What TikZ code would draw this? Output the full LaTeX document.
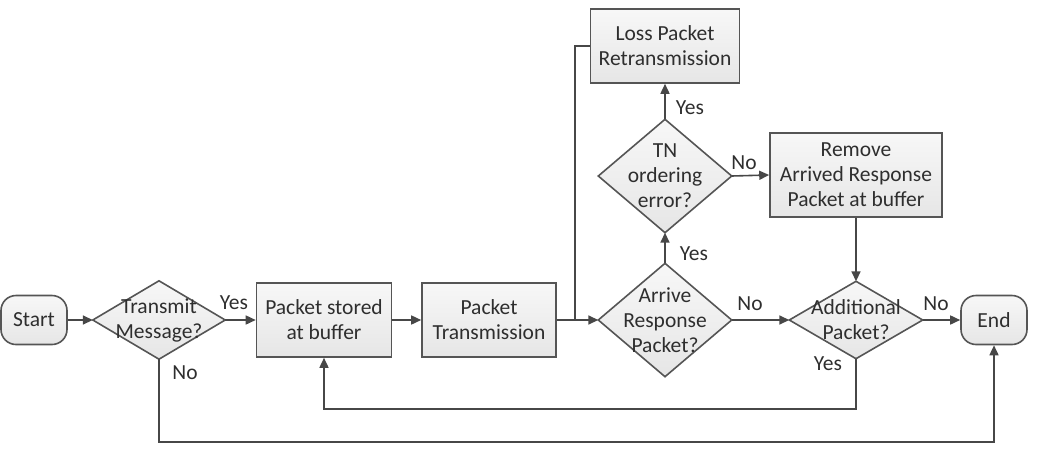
\documentclass[tikz,border=0pt]{standalone}
\usepackage{fontspec}
\setmainfont{Carlito}
\usetikzlibrary{arrows.meta,backgrounds}
\definecolor{edgecol}{HTML}{555555}
\definecolor{linecol}{HTML}{474747}
\definecolor{txtcol}{HTML}{2E2E2E}
\definecolor{fillcol}{HTML}{E6E6E6}
\begin{document}
\begin{tikzpicture}[x=1pt,y=-1pt,
  font=\fontsize{21.5}{25}\selectfont, text=txtcol,
  base/.style={align=center, inner sep=0pt},
  box/.style={base, draw=edgecol, line width=1.6pt, top color=white!97!black, bottom color=fillcol},
  term/.style={box, rounded corners=15pt},
  dnode/.style={base},
  dshape/.style={draw=edgecol, line width=1.6pt, top color=white!97!black, bottom color=fillcol},
  conn/.style={draw=linecol, line width=1.6pt},
  arr/.style={conn, -{Triangle[length=10pt,width=9pt]}},
  lbl/.style={inner sep=0pt}
]
\useasboundingbox (0,0) rectangle (1043,450);
% nodes
\node[term, minimum width=66, minimum height=49] (start) at (34,320) {Start};
\node[dnode, minimum width=132, minimum height=78] (tm) at (159,320) {Transmit\\Message?};
\node[box, minimum width=135, minimum height=74] (ps) at (324,320) {Packet stored\\at buffer};
\node[box, minimum width=134, minimum height=74] (pt) at (489,320) {Packet\\Transmission};
\node[dnode, minimum width=133, minimum height=113] (ar) at (665,320) {Arrive\\Response\\Packet?};
\node[dnode, minimum width=133, minimum height=113] (tn) at (665,176) {TN\\ordering\\error?};
\node[box, minimum width=149, minimum height=74] (loss) at (665,46) {Loss Packet\\Retransmission};
\node[box, minimum width=172, minimum height=84] (rm) at (856,175) {Remove\\Arrived Response\\Packet at buffer};
\node[dnode, minimum width=133, minimum height=77] (ad) at (856,320) {Additional\\Packet?};
\node[term, minimum width=66, minimum height=49] (end) at (994,320) {End};
% diamond outlines on background
\begin{scope}[on background layer]
\foreach \d in {tm,ar,tn,ad}{
  \path[dshape] (\d.north) -- (\d.east) -- (\d.south) -- (\d.west) -- cycle;
}
\end{scope}
% coordinates
\coordinate (jn) at (575,320);
\coordinate (lp1) at (856,409);
\coordinate (lp2) at (159,442);
% connectors
\draw[arr] (start) -- (tm.west);
\draw[arr] (tm.east) -- (ps.west);
\draw[arr] (ps) -- (pt);
\draw[arr] (pt) -- (ar.west);
\draw[conn] (loss.west) -| (jn);
\draw[arr] (ar.north) -- (tn.south);
\draw[arr] (tn.north) -- (loss.south);
\draw[arr] (tn.east) -- (rm.west);
\draw[arr] (rm.south) -- (ad.north);
\draw[arr] (ar.east) -- (ad.west);
\draw[arr] (ad.east) -- (end.west);
\draw[arr] (ad.south) -- (lp1) -| (ps.south);
\draw[arr] (tm.south) -- (lp2) -| (end.south);
% labels
\node[lbl] (l1) at (234,303) {Yes};
\node[lbl] (l2) at (185,373) {No};
\node[lbl] (l3) at (694,254) {Yes};
\node[lbl] (l4) at (690,108) {Yes};
\node[lbl] (l5) at (744,163) {No};
\node[lbl] (l6) at (750,304) {No};
\node[lbl] (l7) at (936,304) {No};
\node[lbl] (l8) at (828,364) {Yes};
\end{tikzpicture}
\end{document}
